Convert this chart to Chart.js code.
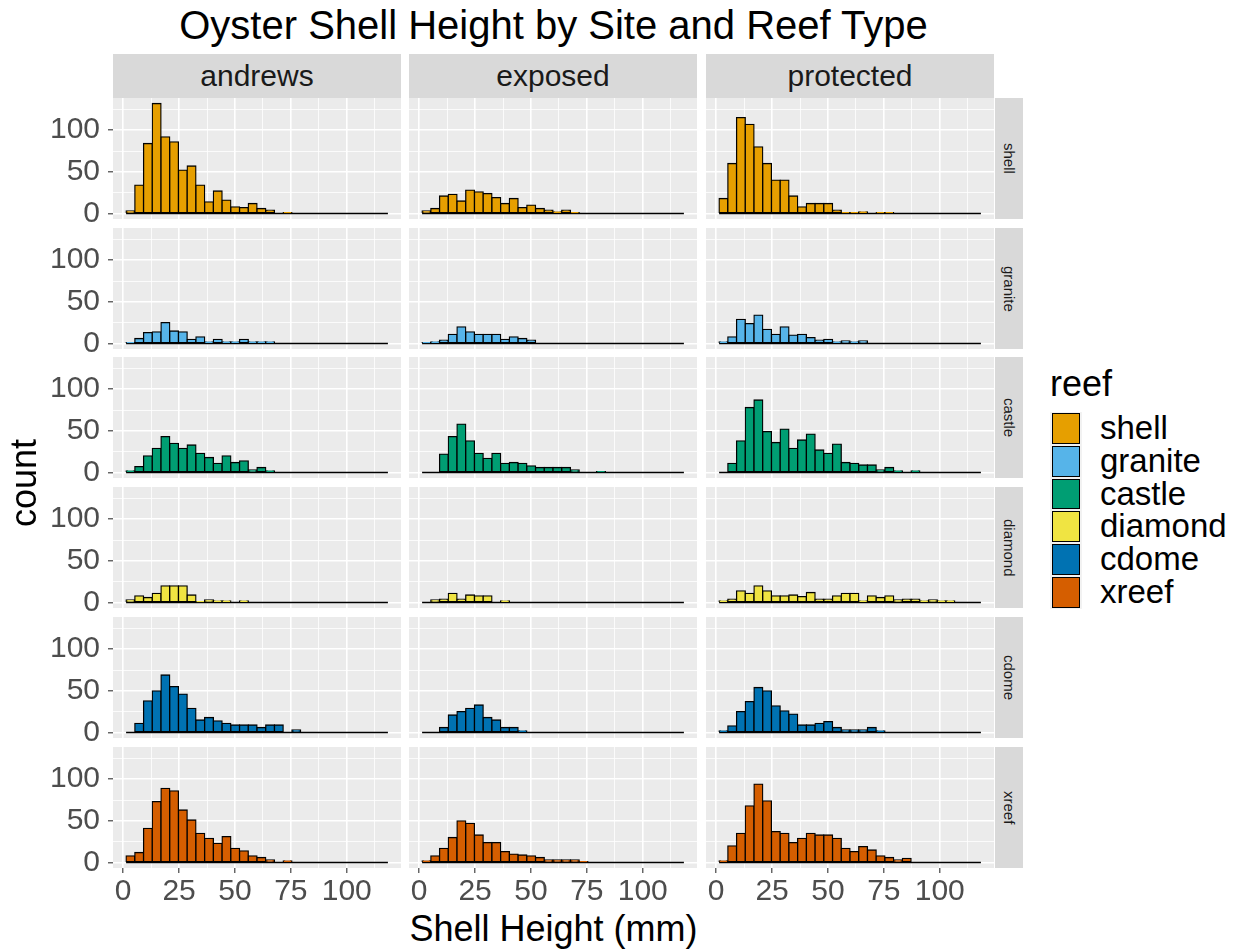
<!DOCTYPE html>
<html>
<head>
<meta charset="utf-8">
<script src="https://cdn.jsdelivr.net/npm/chart.js@4.4.1/dist/chart.umd.min.js"></script>
<style>
  html, body { margin: 0; padding: 0; background: #ffffff; }
  #fig { position: relative; width: 1239px; height: 950px; overflow: hidden;
         font-family: "Liberation Sans", Arial, sans-serif; }
  .abs { position: absolute; white-space: nowrap; }
  canvas { position: absolute; }
</style>
</head>
<body>
<div id="fig"></div>
<script>
// ---- data -------------------------------------------------------------
const sites = ['andrews', 'exposed', 'protected'];
const reefs = ['shell', 'granite', 'castle', 'diamond', 'cdome', 'xreef'];
const reefColors = ['#E69F00', '#56B4E9', '#009E73', '#F0E442', '#0072B2', '#D55E00'];
const xTickLabels = [0, 25, 50, 75, 100];
const yTickLabels = [0, 50, 100];

// histogram bins (shell height, mm)
const binLow = 1.3;
const binHigh = 118.4;
const binCount = 30;

// counts per bin, one row per site: andrews, exposed, protected
const shellCounts = [
  [3, 34, 84, 132, 92, 86, 52, 57, 34, 14, 27, 16, 8, 7, 12, 6, 4, 0, 1],
  [3, 6, 21, 23, 15, 28, 26, 24, 19, 12, 18, 7, 10, 6, 4, 2, 4, 1],
  [18, 60, 115, 107, 80, 60, 40, 40, 21, 8, 12, 12, 12, 4, 1, 1, 2, 0, 1, 1]
];
const graniteCounts = [
  [1, 6, 13, 14, 25, 15, 14, 5, 8, 2, 5, 2, 2, 5, 2, 2, 2],
  [1, 2, 4, 11, 20, 14, 11, 11, 11, 5, 8, 6, 4],
  [2, 8, 29, 24, 34, 17, 11, 20, 10, 11, 7, 4, 5, 2, 3, 2, 3]
];
const castleCounts = [
  [2, 7, 20, 29, 43, 35, 29, 33, 23, 18, 11, 20, 12, 14, 3, 6, 2],
  [0, 0, 22, 43, 58, 38, 23, 17, 23, 11, 12, 11, 8, 6, 6, 6, 6, 3, 0, 0, 1],
  [0, 11, 38, 78, 87, 49, 36, 52, 29, 39, 46, 27, 23, 34, 12, 11, 9, 9, 3, 6, 2, 0, 2]
];
const diamondCounts = [
  [3, 8, 6, 11, 20, 20, 20, 9, 1, 3, 2, 2, 0, 2],
  [0, 3, 4, 11, 4, 9, 8, 8, 0, 2],
  [2, 4, 14, 11, 20, 14, 8, 8, 9, 7, 12, 4, 4, 8, 11, 11, 2, 8, 6, 8, 3, 4, 4, 2, 3, 2, 2]
];
const cdomeCounts = [
  [0, 11, 38, 50, 69, 55, 46, 29, 15, 18, 14, 11, 9, 9, 9, 6, 9, 9, 0, 3],
  [0, 0, 6, 21, 25, 29, 33, 18, 15, 6, 6, 2],
  [2, 8, 25, 37, 54, 50, 32, 26, 22, 9, 9, 11, 13, 6, 3, 3, 3, 6, 2]
];
const xreefCounts = [
  [8, 12, 41, 73, 89, 86, 63, 51, 35, 29, 23, 31, 17, 14, 8, 6, 3, 0, 2],
  [2, 8, 17, 30, 50, 47, 33, 24, 24, 13, 10, 9, 8, 6, 3, 3, 3, 3, 1],
  [2, 20, 35, 68, 94, 74, 37, 35, 24, 29, 35, 33, 33, 29, 17, 13, 19, 15, 8, 6, 3, 5]
];
const countsByReef = [shellCounts, graniteCounts, castleCounts, diamondCounts, cdomeCounts, xreefCounts];

// ---- derived scale settings ------------------------------------------
const binWidth = (binHigh - binLow) / binCount;
const binCenters = Array.from({ length: binCount }, (_, i) => binLow + binWidth * (i + 0.5));
const xPad = 0.05 * (binHigh - binLow);
const xMin = binLow - xPad, xMax = binHigh + xPad;
const yTop = Math.max(...countsByReef.flat(2));
const yMin = -0.05 * yTop, yMax = yTop * 1.05;
const xGrid = [];
for (let i = 0; i < xTickLabels.length; i++) {
  xGrid.push(xTickLabels[i]);
  xGrid.push(xTickLabels[i] + (xTickLabels[1] - xTickLabels[0]) / 2);
}
const yGrid = [];
for (let i = 0; i < yTickLabels.length; i++) {
  yGrid.push(yTickLabels[i]);
  yGrid.push(yTickLabels[i] + (yTickLabels[1] - yTickLabels[0]) / 2);
}

// ---- layout ------------------------------------------------------------
const FONT = '"Liberation Sans", Arial, sans-serif';
const colLeft = [113, 409, 706];
const rowTop = [98, 228, 357, 487, 617, 747];
const panelW = 288, panelH = 121;
const YW = 110, XH = 40, LABEL_ROOM = 18;

const fig = document.getElementById('fig');
function addBox(text, css) {
  const d = document.createElement('div');
  d.className = 'abs';
  d.textContent = text;
  Object.assign(d.style, css);
  fig.appendChild(d);
  return d;
}

// panel background painted under grid and bars
const panelBackground = {
  id: 'panelBackground',
  beforeDraw(chart) {
    const a = chart.chartArea;
    const ctx = chart.ctx;
    ctx.save();
    ctx.fillStyle = '#EBEBEB';
    ctx.fillRect(a.left, a.top, a.right - a.left, a.bottom - a.top);
    ctx.restore();
  }
};

function makePanel(r, c) {
  const isLeft = c === 0;
  const isBottom = r === reefs.length - 1;
  const extraBottom = isBottom ? XH : (isLeft ? LABEL_ROOM : 0);
  const cw = panelW + (isLeft ? YW : 0);
  const ch = panelH + extraBottom;
  const canvas = document.createElement('canvas');
  canvas.width = cw;
  canvas.height = ch;
  canvas.style.left = (colLeft[c] - (isLeft ? YW : 0)) + 'px';
  canvas.style.top = rowTop[r] + 'px';
  canvas.style.width = cw + 'px';
  canvas.style.height = ch + 'px';
  fig.appendChild(canvas);

  const raw = countsByReef[r][c];
  const counts = binCenters.map((_, i) => (i < raw.length ? raw[i] : 0));
  const color = reefColors[r];

  new Chart(canvas, {
    type: 'bar',
    data: {
      datasets: [
        {
          type: 'bar',
          data: binCenters.map((x, i) => ({ x: x, y: counts[i] })),
          backgroundColor: color,
          borderColor: '#000000',
          borderWidth: 1.3,
          borderSkipped: false,
          inflateAmount: 0.65,
          barPercentage: 1,
          categoryPercentage: 1,
          order: 1
        },
        {
          type: 'line',
          data: [{ x: binLow, y: 0 }, { x: binHigh, y: 0 }],
          borderColor: '#000000',
          borderWidth: 1.4,
          pointRadius: 0,
          fill: false,
          order: 2
        }
      ]
    },
    options: {
      responsive: false,
      animation: false,
      devicePixelRatio: 1,
      events: [],
      layout: { padding: { left: 0, right: 0, top: 0, bottom: isBottom ? 0 : extraBottom } },
      plugins: { legend: { display: false }, tooltip: { enabled: false } },
      scales: {
        x: {
          type: 'linear',
          position: 'bottom',
          min: xMin,
          max: xMax,
          offset: false,
          afterBuildTicks: s => { s.ticks = xGrid.map(v => ({ value: v })); },
          afterFit: s => {
            s.height = isBottom ? XH : 0;
            s.paddingLeft = 0; s.paddingRight = 0; s.paddingTop = 0; s.paddingBottom = 0;
          },
          ticks: {
            display: isBottom,
            autoSkip: false,
            maxRotation: 0,
            minRotation: 0,
            padding: 1,
            color: '#4D4D4D',
            font: { family: FONT, size: 30 },
            callback: v => (xTickLabels.includes(v) ? String(v) : '')
          },
          grid: {
            offset: false,
            color: '#FFFFFF',
            lineWidth: ctx => (ctx.tick && xTickLabels.includes(ctx.tick.value) ? 1.6 : 0.8),
            drawTicks: isBottom,
            tickLength: 5,
            tickWidth: 1.1,
            tickColor: ctx => (ctx.tick && xTickLabels.includes(ctx.tick.value) ? '#333333' : 'rgba(0,0,0,0)')
          },
          border: { display: false }
        },
        y: {
          type: 'linear',
          position: 'left',
          min: yMin,
          max: yMax,
          afterBuildTicks: s => { s.ticks = yGrid.filter(v => v < yMax).map(v => ({ value: v })); },
          afterFit: s => {
            s.width = isLeft ? YW : 0;
            s.paddingLeft = 0; s.paddingRight = 0; s.paddingTop = 0; s.paddingBottom = 0;
          },
          ticks: {
            display: isLeft,
            autoSkip: false,
            padding: 8,
            color: '#4D4D4D',
            font: { family: FONT, size: 30 },
            callback: v => (yTickLabels.includes(v) ? String(v) : '')
          },
          grid: {
            color: '#FFFFFF',
            lineWidth: ctx => (ctx.tick && yTickLabels.includes(ctx.tick.value) ? 1.6 : 0.8),
            drawTicks: isLeft,
            tickLength: 5,
            tickWidth: 1.1,
            tickColor: ctx => (ctx.tick && yTickLabels.includes(ctx.tick.value) ? '#333333' : 'rgba(0,0,0,0)')
          },
          border: { display: false }
        }
      }
    },
    plugins: [panelBackground]
  });
}

// ---- title, strips, axis titles -----------------------------------------
addBox('Oyster Shell Height by Site and Reef Type', {
  left: '0px', width: '1107px', top: '5px', textAlign: 'center',
  fontSize: '40px', lineHeight: '40px', color: '#000000'
});

sites.forEach((s, c) => {
  addBox(s, {
    left: colLeft[c] + 'px', top: '54px', width: panelW + 'px', height: '44px',
    lineHeight: '44px', textAlign: 'center', background: '#D9D9D9',
    fontSize: '30px', color: '#1A1A1A'
  });
});

reefs.forEach((name, r) => {
  addBox(name, {
    left: '995px', top: rowTop[r] + 'px', width: '28px', height: panelH + 'px',
    background: '#D9D9D9', fontSize: '15px', color: '#1A1A1A',
    writingMode: 'vertical-rl', textAlign: 'center', lineHeight: '28px'
  });
});

for (let r = 0; r < reefs.length; r++) {
  for (let c = 0; c < sites.length; c++) makePanel(r, c);
}

addBox('Shell Height (mm)', {
  left: '0px', width: '1107px', top: '911px', textAlign: 'center',
  fontSize: '36px', lineHeight: '36px', color: '#000000'
});

addBox('count', {
  left: '-76px', top: '463px', width: '200px', height: '40px', lineHeight: '40px',
  textAlign: 'center', fontSize: '36px', color: '#000000', transform: 'rotate(-90deg)'
});

// ---- legend --------------------------------------------------------------
addBox('reef', {
  left: '1050px', top: '366px', fontSize: '36px', lineHeight: '36px', color: '#000000'
});
const keyTop = 412, keyStep = 32.8;
reefs.forEach((name, i) => {
  const top = keyTop + i * keyStep;
  addBox('', {
    left: '1050px', top: top + 'px', width: '32px', height: keyStep + 'px', background: '#F2F2F2'
  });
  addBox('', {
    left: '1052px', top: (top + 1) + 'px', width: '28px', height: (keyStep - 2) + 'px',
    background: reefColors[i], border: '1.2px solid #000000', boxSizing: 'border-box'
  });
  addBox(name, {
    left: '1100px', top: top + 'px', height: keyStep + 'px', lineHeight: keyStep + 'px',
    fontSize: '33px', color: '#000000'
  });
});
</script>
</body>
</html>
